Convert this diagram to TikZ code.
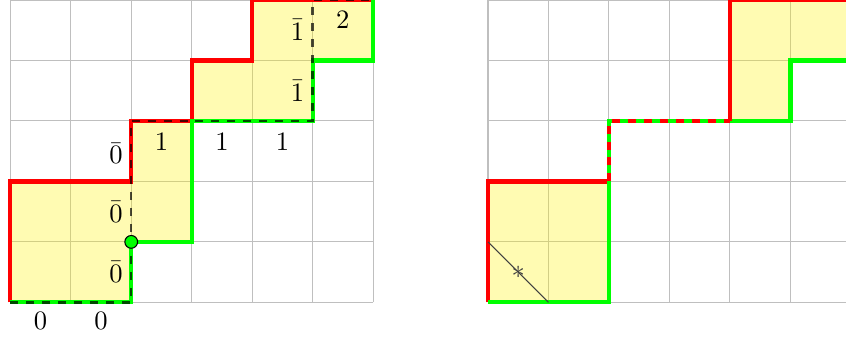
\documentclass[tikz,border=0pt]{standalone}
\usepackage{amsmath,amssymb}
\usetikzlibrary{positioning,calc}

\begin{document}
\begin{tikzpicture}[x=0.8cm, y=0.8cm,
  gridline/.style={gray!50, line width=0.4pt, step={(1,1)}},
  region/.style={fill=yellow, fill opacity=0.3},
  upper/.style={red, line width=1.6pt},
  lower/.style={green, line width=1.6pt},
  shared/.style={red, line width=1.6pt, dashed},
  walk/.style={black, draw opacity=0.7, dashed, line width=0.9pt},
  cut/.style={black!75, thin},
  dot/.style={circle, draw=black, fill=green, thin,
    inner sep=0pt, minimum size=4.8pt},
  lbl/.style={inner sep=1pt},
]
\useasboundingbox (-0.17,-0.57) rectangle (13.82,5);

% left lattice
\draw[gridline] (0,0) grid (6,5);
\fill[region] (0,0) -- (0,2) -- (2,2) -- (2,3) -- (3,3) -- (3,4) -- (4,4)
  -- (4,5) -- (6,5) -- (6,4) -- (5,4) -- (5,3) -- (3,3) -- (3,1) -- (2,1)
  -- (2,0) -- cycle;
\draw[upper] (0,0) -- (0,2) -- (2,2) -- (2,3) -- (3,3) -- (3,4) -- (4,4)
  -- (4,5) -- (6,5);
\draw[lower] (0,0) -- (2,0) -- (2,1) -- (3,1) -- (3,3) -- (5,3) -- (5,4)
  -- (6,4) -- (6,5);
\draw[walk] (0,0) -- (2,0) -- (2,3) -- (5,3) -- (5,5) -- (6,5);
\node[dot] (pivot) at (2,1) {};

\node[lbl] (zeroA) at (0.5,-0.3) {$0$};
\node[lbl] (zeroB) at (1.5,-0.3) {$0$};
\node[lbl] (bzeroA) at (1.75,0.5)  {$\bar{0}$};
\node[lbl] (bzeroB) at (1.75,1.5)  {$\bar{0}$};
\node[lbl] (bzeroC) at (1.75,2.46) {$\bar{0}$};
\node[lbl] (oneA) at (2.5,2.66) {$1$};
\node[lbl] (oneB) at (3.5,2.66) {$1$};
\node[lbl] (oneC) at (4.5,2.66) {$1$};
\node[lbl] (boneA) at (4.75,3.5) {$\bar{1}$};
\node[lbl] (boneB) at (4.75,4.5) {$\bar{1}$};
\node[lbl] (two) at (5.5,4.67) {$2$};

% right lattice
\begin{scope}[shift={(7.9,0)}]
\draw[gridline] (0,0) grid (6,5);
\fill[region] (0,0) -- (0,2) -- (2,2) -- (2,0) -- cycle;
\fill[region] (4,3) -- (4,5) -- (6,5) -- (6,4) -- (5,4) -- (5,3) -- cycle;
\draw[upper] (0,0) -- (0,2) -- (2,2);
\draw[lower] (0,0) -- (2,0) -- (2,3) -- (5,3) -- (5,4) -- (6,4) -- (6,5);
\draw[shared] (2,2) -- (2,3) -- (4,3);
\draw[upper] (4,3) -- (4,5) -- (6,5);

\draw[cut] (0,1) -- node[inner sep=0pt, text=black!75] (star) {$*$} (1,0);
\end{scope}
\end{tikzpicture}
\end{document}
